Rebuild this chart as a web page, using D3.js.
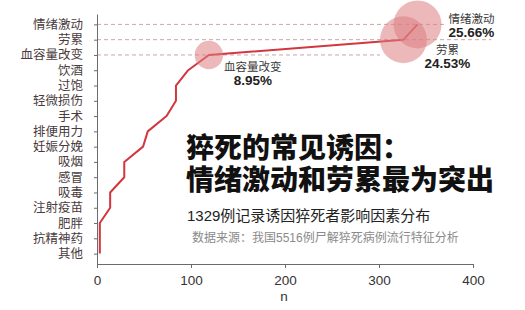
<!DOCTYPE html>
<html lang="zh-CN">
<head>
<meta charset="utf-8">
<script src="https://cdn.jsdelivr.net/npm/d3@7"></script>
<style>
  html, body { margin: 0; padding: 0; background: #fff; }
  svg { display: block; }
</style>
</head>
<body>
<svg id="chart"></svg>
<script>
// data (counts, total 1329 cases)
const categories = ['情绪激动','劳累','血容量改变','饮酒','过饱','轻微损伤','手术','排便用力','妊娠分娩','吸烟','感冒','吸毒','注射疫苗','肥胖','抗精神药','其他'];
const counts = [341,326,119,97,84,84,74,54,49,29,29,14,14,3,3,3];
const total = 1329;
const highlighted = ['情绪激动','劳累','血容量改变'];
const xTicks = [0,100,200,300,400];
const titleLines = ['猝死的常见诱因：','情绪激动和劳累最为突出'];
const subtitle = '1329例记录诱因猝死者影响因素分布';
const source = '数据来源：我国5516例尸解猝死病例流行特征分析';

const W = 525, H = 310;
// latin font first so boxes stay compact, CJK glyphs fall back to Noto
const font = "'Liberation Sans', 'Noto Sans CJK SC', sans-serif";

const svg = d3.select('#chart')
  .attr('width', W)
  .attr('height', H)
  .attr('lang', 'zh-CN')
  .style('font-family', font);

svg.append('rect').attr('width', W).attr('height', H).attr('fill', '#fff');

const x = d3.scaleLinear().domain([0, 400]).range([97, 473]);
const y = d3.scalePoint().domain(categories).range([14, 264]).padding(0.68);
const r = d3.scaleSqrt().domain([0, 341]).range([0, 24]);

const rows = categories.map((c, i) => ({ cat: c, n: counts[i] }));
const hi = rows.filter(d => highlighted.includes(d.cat));

// dashed guide lines from the axis to the highlighted points
const dashEnd = {
  '情绪激动': d => x(d.n) + r(d.n) + 4,
  '劳累': d => x(d.n) + 88,
  '血容量改变': d => x(326) - r(326)
};
svg.append('g').selectAll('line')
  .data(hi)
  .join('line')
  .attr('x1', x(0))
  .attr('x2', d => dashEnd[d.cat](d))
  .attr('y1', d => y(d.cat))
  .attr('y2', d => y(d.cat))
  .attr('stroke', '#c9a6a8')
  .attr('stroke-width', 1)
  .attr('stroke-dasharray', '4,3');

// axes
const yAxis = d3.axisLeft(y).tickSize(3).tickSizeOuter(0).tickPadding(11);
const gy = svg.append('g')
  .attr('transform', `translate(${x(0)},0)`)
  .call(yAxis);
gy.select('.domain').attr('stroke', '#6b6b6b');
gy.selectAll('.tick line').attr('stroke', '#6b6b6b');
gy.selectAll('.tick text')
  .attr('fill', '#4a3b3d')
  .style('font-family', font)
  .style('font-size', '12.5px');

const xAxis = d3.axisBottom(x).tickValues(xTicks).tickSize(4).tickSizeOuter(0).tickPadding(7);
const gx = svg.append('g')
  .attr('transform', `translate(0,264)`)
  .call(xAxis);
gx.select('.domain').attr('stroke', '#6b6b6b');
gx.selectAll('.tick line').attr('stroke', '#6b6b6b');
gx.selectAll('.tick text')
  .attr('fill', '#333')
  .style('font-family', font)
  .style('font-size', '13.5px');

svg.append('text')
  .attr('x', (x(0) + x(400)) / 2 - 1)
  .attr('y', 301)
  .attr('text-anchor', 'middle')
  .attr('fill', '#333')
  .style('font-size', '13.5px')
  .text('n');

// main line, drawn from the bottom category up
const line = d3.line()
  .x(d => x(d.n))
  .y(d => y(d.cat));
svg.append('path')
  .datum(rows.slice().reverse())
  .attr('d', line)
  .attr('fill', 'none')
  .attr('stroke', '#d2363f')
  .attr('stroke-width', 2)
  .attr('stroke-linejoin', 'round');

// bubbles sized by count
svg.append('g').selectAll('circle')
  .data(hi)
  .join('circle')
  .attr('cx', d => x(d.n))
  .attr('cy', d => y(d.cat))
  .attr('r', d => r(d.n))
  .attr('fill', 'rgb(220,125,130)')
  .attr('fill-opacity', 0.55);

// labels for the highlighted points
const labelPos = {
  '情绪激动': { dx: 31, dy: -6, anchor: 'start' },
  '劳累': { dx: 44, dy: 10, anchor: 'middle' },
  '血容量改变': { dx: 44, dy: 12, anchor: 'middle' }
};
const lab = svg.append('g').selectAll('g')
  .data(hi)
  .join('g')
  .attr('transform', d => `translate(${x(d.n) + labelPos[d.cat].dx},${y(d.cat) + labelPos[d.cat].dy})`)
  .attr('text-anchor', d => labelPos[d.cat].anchor);
lab.append('text')
  .attr('y', 4.5)
  .attr('fill', '#3a3a3a')
  .style('font-size', '11.5px')
  .text(d => d.cat);
lab.append('text')
  .attr('y', 18.5)
  .attr('fill', '#222')
  .style('font-weight', 'bold')
  .style('font-size', '13.5px')
  .text(d => (d.n / total * 100).toFixed(2) + '%');

// title block
svg.append('g').selectAll('text')
  .data(titleLines)
  .join('text')
  .attr('x', 186)
  .attr('y', (d, i) => 158 + i * 32)
  .attr('fill', '#111')
  .style('font-weight', 900)
  .style('font-size', '28px')
  .text(d => d);

svg.append('text')
  .attr('x', 187)
  .attr('y', 220.5)
  .attr('fill', '#222')
  .style('font-size', '15px')
  .text(subtitle);

svg.append('text')
  .attr('x', 192)
  .attr('y', 241.5)
  .attr('fill', '#8a8a8a')
  .style('font-size', '12px')
  .text(source);
</script>
</body>
</html>
